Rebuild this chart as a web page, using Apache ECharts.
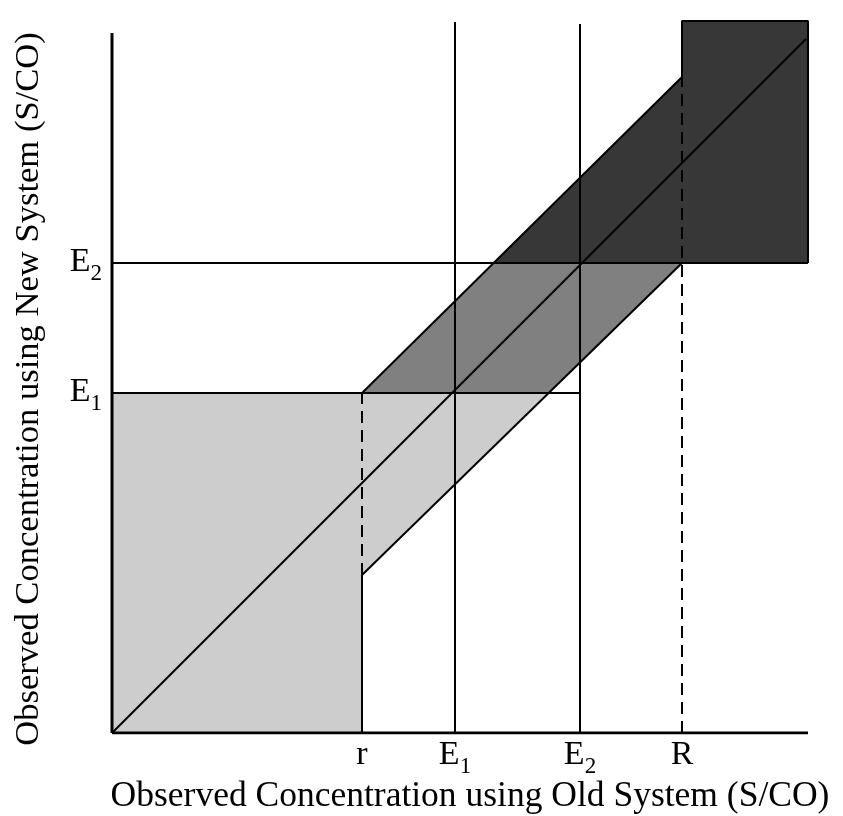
<!DOCTYPE html>
<html>
<head>
<meta charset="utf-8">
<script src="https://cdn.jsdelivr.net/npm/echarts@6/dist/echarts.min.js"></script>
<style>html,body{margin:0;padding:0;background:#fff;}#c{width:843px;height:816px;}</style>
</head>
<body>
<div id="c"></div>
<script>
// Abstract concentration units
const xTickValues = [250, 343, 468, 570];
const xTickLabels = ['{m|r}', '{m|E}{s|1}', '{m|E}{s|2}', '{m|R}'];
const yTickValues = [340, 470];
const yTickLabels = ['{m|E}{s|1}', '{m|E}{s|2}'];
const xMax = 696;
const yMax = 713;
const yAxisTop = 700;
const rectTop = 712;
const diagonalLine = [[0, 0], [694, 694]];
const upperLine = [[250, 340], [570, 656]];
const lowerLine = [[250, 158], [570, 470]];
const e1VertTop = 711;
const e2VertTop = 709;
const xTitle = 'Observed Concentration using Old System (S/CO)';
const yTitle = 'Observed Concentration using New System (S/CO)';

const FONT = '"Liberation Serif", "Times New Roman", serif';
const rX = xTickValues[0], e1X = xTickValues[1], e2X = xTickValues[2], RX = xTickValues[3];
const e1Y = yTickValues[0], e2Y = yTickValues[1];

function xAtY(line, y) {
  const [a, b] = line;
  return a[0] + (y - a[1]) * (b[0] - a[0]) / (b[1] - a[1]);
}
const lowerAtE1 = xAtY(lowerLine, e1Y);
const upperAtE2 = xAtY(upperLine, e2Y);

const polygons = [
  { color: '#cdcdcd', pts: [[0, 0], [rX, 0], [rX, e1Y], [0, e1Y]] },
  { color: '#cdcdcd', pts: [lowerLine[0], [rX, e1Y], [lowerAtE1, e1Y]] },
  { color: '#808080', pts: [[rX, e1Y], [upperAtE2, e2Y], [RX, e2Y], [lowerAtE1, e1Y]] },
  { color: '#373737', pts: [[upperAtE2, e2Y], upperLine[1], [RX, rectTop], [xMax, rectTop], [xMax, e2Y]] }
];

function lineSeries(data, width, dashed) {
  return {
    type: 'line', data: data, symbol: 'none', silent: true, animation: false,
    lineStyle: { color: '#000', width: width, type: dashed ? [12, 7] : 'solid', cap: 'butt' },
    z: 5
  };
}

const chart = echarts.init(document.getElementById('c'), null, { renderer: 'canvas' });
const rich = {
  m: { fontSize: 34, fontFamily: FONT, color: '#000', lineHeight: 36, verticalAlign: 'top' },
  s: { fontSize: 23, fontFamily: FONT, color: '#000', lineHeight: 23, padding: [17, 0, 0, 0], verticalAlign: 'top' }
};
chart.setOption({
  animation: false,
  backgroundColor: '#fff',
  grid: { left: 112, top: 20, width: xMax, height: yMax },
  xAxis: {
    type: 'value', min: 0, max: xMax,
    axisLine: { show: false }, axisTick: { show: false }, splitLine: { show: false },
    axisLabel: {
      customValues: xTickValues, margin: 5,
      formatter: v => xTickLabels[xTickValues.indexOf(v)] || '',
      rich: rich
    }
  },
  yAxis: {
    type: 'value', min: 0, max: yMax,
    axisLine: { show: false }, axisTick: { show: false }, splitLine: { show: false },
    axisLabel: {
      customValues: yTickValues, margin: 10,
      formatter: v => yTickLabels[yTickValues.indexOf(v)] || '',
      rich: rich
    }
  },
  graphic: [
    { type: 'text', x: 470, y: 797, style: { text: xTitle, font: '35.5px ' + FONT, fill: '#000', align: 'center', verticalAlign: 'middle' } },
    { type: 'text', x: 29, y: 389, rotation: Math.PI / 2, style: { text: yTitle, font: '34.6px ' + FONT, fill: '#000', align: 'center', verticalAlign: 'middle' } }
  ],
  series: [
    {
      type: 'custom', silent: true, animation: false, clip: false, z: 1,
      data: polygons.map(p => p.pts[0]),
      encode: { x: 0, y: 1 },
      renderItem: (params, api) => {
        const p = polygons[params.dataIndex];
        return { type: 'polygon', shape: { points: p.pts.map(pt => api.coord(pt)) }, style: { fill: p.color } };
      }
    },
    lineSeries([[0, 0], [0, yAxisTop]], 3),
    lineSeries([[0, 0], [xMax, 0]], 3),
    lineSeries(diagonalLine, 2),
    lineSeries(upperLine, 2),
    lineSeries(lowerLine, 2),
    lineSeries([[rX, 0], lowerLine[0]], 2),
    lineSeries([lowerLine[0], [rX, e1Y]], 2, true),
    lineSeries([[e1X, 0], [e1X, e1VertTop]], 2),
    lineSeries([[e2X, 0], [e2X, e2VertTop]], 2),
    lineSeries([[RX, 0], upperLine[1]], 2, true),
    lineSeries([[0, e1Y], [e2X, e1Y]], 2),
    lineSeries([[0, e2Y], [xMax, e2Y]], 2),
    lineSeries([upperLine[1], [RX, rectTop], [xMax, rectTop], [xMax, e2Y]], 2)
  ]
});
</script>
</body>
</html>
